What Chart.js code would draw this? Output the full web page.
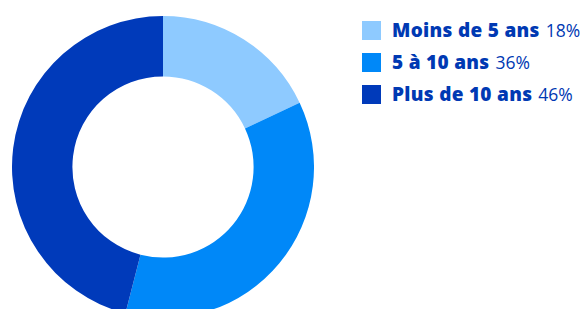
<!DOCTYPE html>
<html>
<head>
<meta charset="utf-8">
<script src="https://cdn.jsdelivr.net/npm/chart.js@4"></script>
<style>
  html, body { margin: 0; padding: 0; background: #fff; overflow: hidden; }
  body { width: 582px; height: 309px; position: relative; font-family: "Open Sans", sans-serif; }
  #wrap { position: absolute; left: 12px; top: 16px; width: 302px; height: 302px; }
  #legend { position: absolute; left: 362px; top: 14px; color: #0039b3; }
  .row { display: flex; align-items: center; height: 32px; white-space: nowrap; }
  .box { width: 19px; height: 19px; margin-right: 11px; flex: none; }
  .row b { font-weight: 800; font-size: 19px; letter-spacing: 0.3px; margin-right: 6px; }
  .row span.pct { font-weight: 400; font-size: 17.5px; }
</style>
</head>
<body>
<div id="wrap"><canvas id="donut"></canvas></div>
<div id="legend"></div>
<script>
var labels = ['Moins de 5 ans', '5 à 10 ans', 'Plus de 10 ans'];
var values = [18, 36, 46];
var colors = ['#8ecaff', '#0088f8', '#003aba'];

var chart = new Chart(document.getElementById('donut'), {
  type: 'doughnut',
  data: {
    labels: labels,
    datasets: [{
      data: values,
      backgroundColor: colors,
      borderWidth: 0
    }]
  },
  options: {
    responsive: true,
    maintainAspectRatio: false,
    animation: false,
    cutout: '60%',
    plugins: {
      legend: { display: false },
      tooltip: { enabled: false }
    }
  }
});

// html legend, bold label + percentage
var legend = document.getElementById('legend');
labels.forEach(function(lab, i) {
  var row = document.createElement('div');
  row.className = 'row';
  var box = document.createElement('span');
  box.className = 'box';
  box.style.background = colors[i];
  var name = document.createElement('b');
  name.textContent = lab;
  var pct = document.createElement('span');
  pct.className = 'pct';
  pct.textContent = values[i] + '%';
  row.appendChild(box);
  row.appendChild(name);
  row.appendChild(pct);
  legend.appendChild(row);
});
</script>
</body>
</html>
